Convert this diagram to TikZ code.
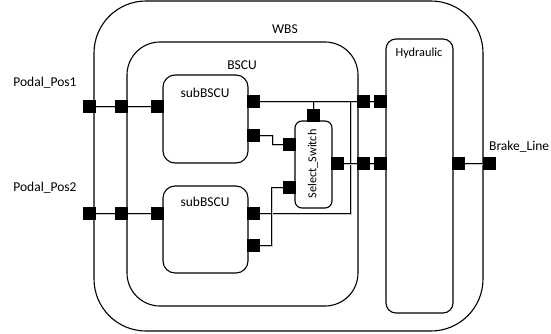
\documentclass[tikz,border=0pt]{standalone}
\usepackage{fontspec}
\setmainfont{Carlito}
\begin{document}
\begin{tikzpicture}[x=1pt,y=-1pt,
  blk/.style={draw, line width=1.1pt, rounded corners=#1, inner sep=0pt},
  port/.style={fill=black, draw=black, minimum size=12pt, inner sep=0pt,
    preaction={fill=gray!40, transform canvas={shift={(0.8pt,-0.8pt)}}}},
  wire/.style={line width=0.9pt,
    preaction={draw=gray!45, line width=1.8pt, transform canvas={shift={(0.6pt,-1pt)}}}},
  lab/.style={inner sep=0pt, font=\fontsize{13.5}{15}\selectfont},
  slab/.style={inner sep=0pt, font=\fontsize{12.3}{14}\selectfont}]
\useasboundingbox (0,0) rectangle (551,334);
% containers
\node[blk=52pt, minimum width=389pt, minimum height=330pt] (wbs) at (288.5,166) {};
\node[blk=33pt, minimum width=231pt, minimum height=264pt] (bscu) at (242.5,174) {};
\node[blk=12pt, minimum width=85pt, minimum height=88pt] (sub1) at (205.5,119) {};
\node[blk=12pt, minimum width=85pt, minimum height=87pt] (sub2) at (205.5,229.5) {};
\node[blk=7pt, minimum width=37pt, minimum height=87pt] (sel) at (313.5,164.5) {};
\node[blk=10pt, minimum width=67pt, minimum height=274pt] (hyd) at (419.5,176) {};
% labels
\node[lab] (lwbs) at (285,29) {WBS};
\node[lab] (lbscu) at (242,65) {BSCU};
\node[lab] (lsub1) at (205,93) {subBSCU};
\node[lab] (lsub2) at (205,202) {subBSCU};
\node[slab, rotate=90] (lsel) at (313,164) {Select\_Switch};
\node[slab] (lhyd) at (419,53) {Hydraulic};
\node[lab] (lp1) at (45,83) {Podal\_Pos1};
\node[lab] (lp2) at (45,188) {Podal\_Pos2};
\node[lab, anchor=west] (lbl) at (489,147) {Brake\_Line};
% ports
\node[port] (pw1) at (89,106) {};
\node[port] (pb1) at (121,106) {};
\node[port] (ps1) at (157.5,106) {};
\node[port] (pw2) at (89,213) {};
\node[port] (pb2) at (121,213) {};
\node[port] (ps2) at (157.5,213) {};
\node[port] (s1o1) at (253.5,101) {};
\node[port] (s1o2) at (253.5,135) {};
\node[port] (s2o1) at (253.5,213) {};
\node[port] (s2o2) at (253.5,245) {};
\node[port] (sst) at (313,115) {};
\node[port] (ssl1) at (289.5,144) {};
\node[port] (ssl2) at (289.5,187) {};
\node[port] (ssr) at (337.5,163) {};
\node[port] (bo1) at (363.5,101) {};
\node[port] (bo2) at (363.5,163) {};
\node[port] (hi1) at (380.5,101) {};
\node[port] (hi2) at (380.5,163) {};
\node[port] (ho) at (458.5,163) {};
\node[port] (wo) at (489,163) {};
\coordinate (j1) at (350,101);
% connectors
\draw[wire] (pw1) -- (pb1);
\draw[wire] (pb1) -- (ps1);
\draw[wire] (pw2) -- (pb2);
\draw[wire] (pb2) -- (ps2);
\draw[wire] (s1o1) -- (bo1);
\draw[wire] (bo1) -- (hi1);
\draw[wire] (sst) -- (sst |- s1o1);
\draw[wire] (s2o1.east) -- (350,213) -- (j1);
\draw[wire] (s1o2.east) -- (272,135) -- (272,144) -- (ssl1.west);
\draw[wire] (ssl2.west) -- (271,187) -- (271,245) -- (s2o2.east);
\draw[wire] (ssr) -- (bo2);
\draw[wire] (bo2) -- (hi2);
\draw[wire] (ho) -- (wo);
% redraw ports on top
\foreach \p in {pw1,pb1,ps1,pw2,pb2,ps2,s1o1,s1o2,s2o1,s2o2,sst,ssl1,ssl2,ssr,bo1,bo2,hi1,hi2,ho,wo}
  \fill (\p.south west) rectangle (\p.north east);
\end{tikzpicture}
\end{document}
